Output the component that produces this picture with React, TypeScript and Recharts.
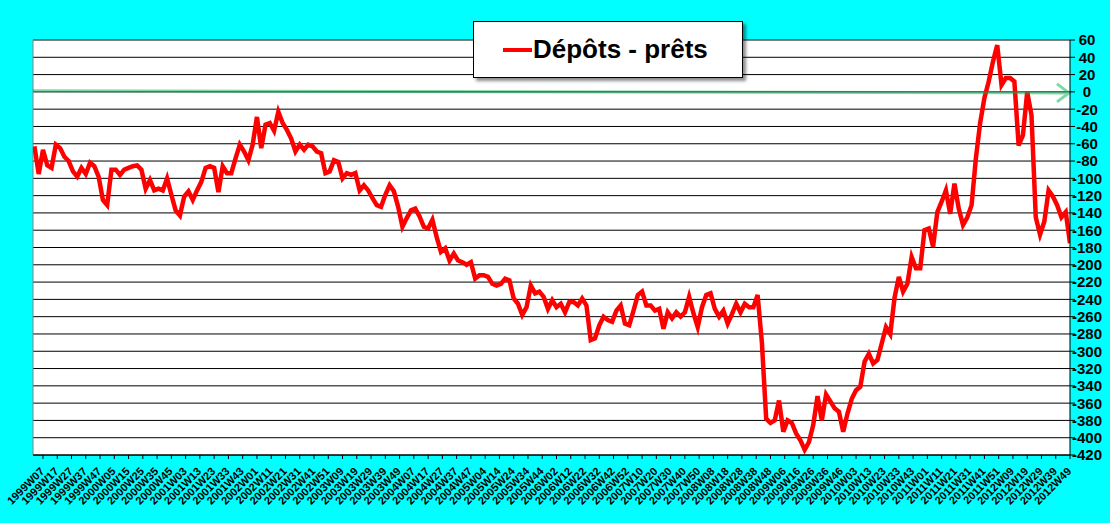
import React from "react";
import {
  CartesianGrid,
  Legend,
  Line,
  LineChart,
  ReferenceLine,
  XAxis,
  YAxis,
} from "recharts";

// week labels shown under the axis, one every 10 weeks
const weekLabels = [
  "1999W07", "1999W17", "1999W27", "1999W37", "1999W47",
  "2000W05", "2000W15", "2000W25", "2000W35", "2000W45",
  "2001W03", "2001W13", "2001W23", "2001W33", "2001W43",
  "2002W01", "2002W11", "2002W21", "2002W31", "2002W41", "2002W51",
  "2003W09", "2003W19", "2003W29", "2003W39", "2003W49",
  "2004W07", "2004W17", "2004W27", "2004W37", "2004W47",
  "2005W04", "2005W14", "2005W24", "2005W34", "2005W44",
  "2006W02", "2006W12", "2006W22", "2006W32", "2006W42", "2006W52",
  "2007W10", "2007W20", "2007W30", "2007W40", "2007W50",
  "2008W08", "2008W18", "2008W28", "2008W38", "2008W48",
  "2009W06", "2009W16", "2009W26", "2009W36", "2009W46",
  "2010W03", "2010W13", "2010W23", "2010W33", "2010W43",
  "2011W01", "2011W11", "2011W21", "2011W31", "2011W41", "2011W51",
  "2012W09", "2012W19", "2012W29", "2012W39", "2012W49",
];
const weekTicks = weekLabels.map((_, i) => i * 10);

const valueTicks = [
  60, 40, 20, 0, -20, -40, -60, -80, -100, -120, -140, -160, -180, -200,
  -220, -240, -260, -280, -300, -320, -340, -360, -380, -400, -420,
];

// Dépôts - prêts, read every 3 weeks starting 6 weeks before 1999W07
const depotsPrets = [
  -63, -95, -67, -85, -88, -61, -65, -75, -80, -92,
  -98, -88, -95, -82, -86, -98, -125, -131, -90, -90,
  -96, -90, -88, -86, -85, -90, -112, -102, -114, -112,
  -114, -100, -119, -137, -143, -121, -115, -125, -114, -104,
  -88, -86,
  -88, -116, -86, -94, -94, -77, -61, -69, -79, -61,
  -29, -65, -38, -36, -45, -23, -36, -44, -54, -69,
  -61, -67, -61, -63, -69, -71, -94, -92, -79, -81,
  -100, -94, -96, -94, -114, -108, -114, -123, -131,
  -133, -119, -108,
  -115, -133, -156, -146, -137, -135, -144, -156,
  -158, -148, -168, -185, -181, -195, -187, -195, -197, -200,
  -197, -216, -212, -212, -214, -222, -224, -222, -216, -218,
  -239, -245, -258, -249, -224, -233, -231, -237, -251, -241,
  -249, -245, -255, -243, -243, -247, -239, -247, -287, -285,
  -270, -260, -264, -266, -253, -247, -268, -270, -253, -235,
  -231, -247, -247, -253, -251, -274, -255, -262, -255, -260,
  -255, -237, -256, -272, -249, -235, -233, -251, -260, -253,
  -268, -257, -245, -255, -245, -249, -249, -235, -290, -378,
  -383, -380, -357, -393, -380, -383, -395, -403, -414, -405,
  -385, -352, -380, -350,
  -358, -366, -370, -393, -372, -355, -345,
  -341, -312, -303, -314, -310, -291, -272, -280, -238, -214,
  -231, -222, -191, -204, -204, -160, -158, -179, -139, -127,
  -114, -141, -106, -135, -154, -145, -131, -77, -36, -7,
  12, 35, 54, 8, 16, 16, 12, -62, -50, 0,
  -27, -145, -165, -150, -114, -121, -131, -145, -139, -175,
];

const FIRST_WEEK = -6;
const WEEK_STEP = 3;
const chartData = depotsPrets.map((v, j) => ({ w: FIRST_WEEK + j * WEEK_STEP, v }));

const FONT = "Arial, 'Liberation Sans', sans-serif";

function WeekTick({ x, y, payload }: any) {
  const ax = x + 2;
  const ay = y + 11;
  return (
    <text
      x={ax}
      y={ay}
      transform={`rotate(-45 ${ax} ${ay})`}
      textAnchor="end"
      fontSize={11}
      fontWeight="bold"
      fontFamily={FONT}
      fill="#000"
    >
      {weekLabels[Math.round(payload.value / 10)]}
    </text>
  );
}

function ValueTick({ x, y, payload }: any) {
  return (
    <text
      x={x + 10}
      y={y}
      dy="0.36em"
      textAnchor="middle"
      fontSize={15}
      fontWeight="bold"
      fontFamily={FONT}
      fill="#000"
    >
      {payload.value}
    </text>
  );
}

function ArrowLine(props: any) {
  const { x1, y1, x2, y2 } = props;
  return (
    <g opacity={0.5} stroke="#00b050" strokeWidth={3} fill="none">
      <line x1={x1} y1={y1} x2={x2 - 2} y2={y2} />
      <polyline points={`${x2 - 13},${y2 - 9} ${x2 - 1},${y2} ${x2 - 13},${y2 + 9}`} />
    </g>
  );
}

function LegendBox() {
  return (
    <div
      style={{
        boxSizing: "border-box",
        width: 270,
        height: 57,
        background: "#fff",
        border: "1px solid #000",
        boxShadow: "3px 3px 3px rgba(0,0,0,0.45)",
        display: "flex",
        alignItems: "center",
        paddingLeft: 29,
      }}
    >
      <span style={{ display: "inline-block", width: 29, height: 4, background: "#ff0000", marginRight: 1 }} />
      <span style={{ fontFamily: FONT, fontWeight: "bold", fontSize: 26, color: "#000" }}>
        Dépôts - prêts
      </span>
    </div>
  );
}

export default function App() {
  return (
    <div style={{ position: "absolute", left: 0, top: 0, width: 1110, height: 523, background: "#00ffff" }}>
      <LineChart width={1110} height={523} data={chartData} margin={{ top: 40, right: 0, bottom: 0, left: 33 }}>
        <CartesianGrid vertical={false} stroke="#000" fill="#ffffff" />
        <XAxis
          dataKey="w"
          type="number"
          domain={[-7, 720]}
          ticks={weekTicks}
          interval={0}
          allowDataOverflow
          height={68}
          tick={<WeekTick />}
          tickSize={4}
          axisLine={{ stroke: "#000" }}
          tickLine={{ stroke: "#000" }}
        />
        <YAxis
          orientation="right"
          type="number"
          domain={[-420, 60]}
          ticks={valueTicks}
          interval={0}
          width={40}
          tick={<ValueTick />}
          tickSize={5}
          axisLine={{ stroke: "#000" }}
          tickLine={{ stroke: "#000" }}
        />
        <ReferenceLine y={60} stroke="#808080" />
        <ReferenceLine x={-7} stroke="#808080" />
        <Line
          type="linear"
          dataKey="v"
          name="Dépôts - prêts"
          stroke="#ff0000"
          strokeWidth={4.5}
          dot={false}
          activeDot={false}
          isAnimationActive={false}
        />
        <ReferenceLine
          segment={[{ x: -7, y: 1.2 }, { x: 720, y: -1.2 }]}
          ifOverflow="visible"
          shape={<ArrowLine />}
        />
        <Legend
          layout="horizontal"
          align="center"
          verticalAlign="middle"
          content={<LegendBox />}
          wrapperStyle={{ position: "absolute", left: 473, top: 21, width: 270, height: 57 }}
        />
      </LineChart>
    </div>
  );
}
